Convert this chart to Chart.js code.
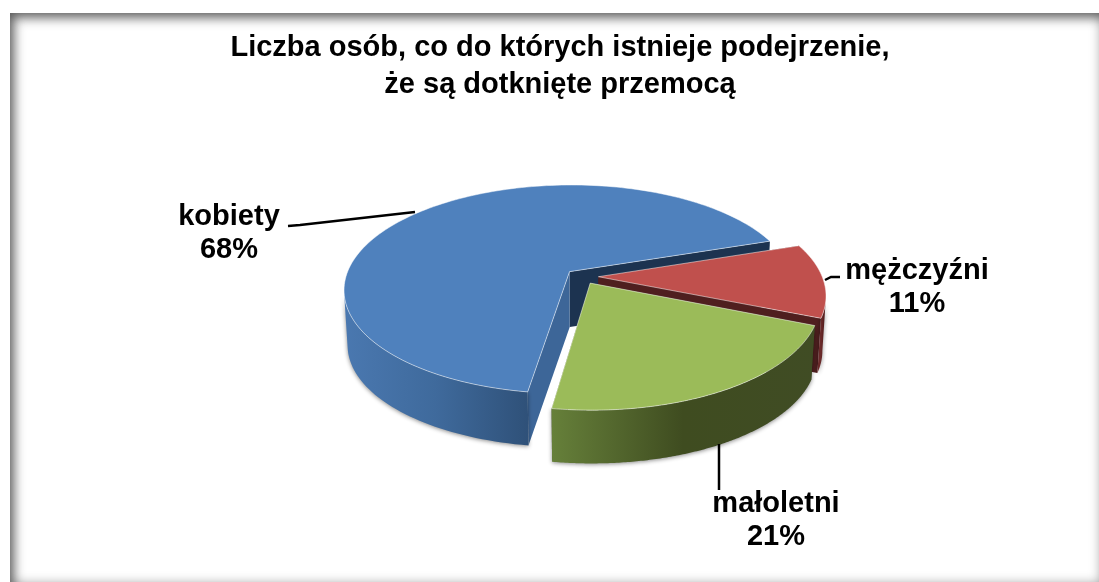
<!DOCTYPE html>
<html>
<head>
<meta charset="utf-8">
<script src="https://cdn.jsdelivr.net/npm/chart.js@4"></script>
<style>
  html, body { margin: 0; padding: 0; background: #fff; overflow: hidden; width: 1099px; height: 582px; }
  #frame { position: absolute; left: 10px; top: 13px; width: 1092px; height: 572px; background: #fff;
    box-shadow: inset 0 0 12px 1px rgba(0,0,0,.4), inset 7px 8px 12px -3px rgba(0,0,0,.45); }
  #wrap { position: absolute; left: 0; top: 0; width: 1120px; height: 582px; }
</style>
</head>
<body>
<div id="frame"></div>
<div id="wrap"><canvas id="pie"></canvas></div>
<script>
const titleLines = ["Liczba osób, co do których istnieje podejrzenie,", "że są dotknięte przemocą"];
const categories = ["kobiety", "mężczyźni", "małoletni"];
const shares = [67.5, 11.3, 21.2];
const topColors = ["#4f81bd", "#c0504d", "#9bbb59"];

// wall colours, one entry per slice
const startWallColors = ["#3d6698", "#4f1f1f", "#3f4c22"];
const endWallColors = ["#1c3350", "#4f1f1f", "#3f4c22"];
const outerWallStops = [
  ["#4a78b0", "#3f6a9c", "#2f5179"],
  ["#6a2a2a", "#5a2020", "#4f1f1f"],
  ["#66803a", "#3f4c20", "#404c24"]
];

// where the tilted pie ends up on screen
const pie3d = { cx: 582, cy: 294.5, rx: 227, ry: 106, tilt: -0.17, depth: 55, shrink: 0.985 };
const labelSpots = [
  { x: 229, y: 217, leader: [[288, 226], [300, 225], [415, 212]] },
  { x: 917, y: 271, leader: [[825, 280], [831, 277], [840, 277]] },
  { x: 776, y: 504, leader: [[719, 444], [719, 490]] }
];

function project(u, v, bottom) {
  const t = pie3d.tilt;
  const d = 1 + t * v;
  const X = u * Math.sqrt(1 - t * t) / d;
  const Y = (v + t) / d;
  const k = bottom ? pie3d.shrink : 1;
  return [pie3d.cx + X * pie3d.rx * k, pie3d.cy + Y * pie3d.ry * k + (bottom ? pie3d.depth : 0)];
}

function poly(ctx, pts) {
  ctx.beginPath();
  pts.forEach((p, i) => (i ? ctx.lineTo(p[0], p[1]) : ctx.moveTo(p[0], p[1])));
  ctx.closePath();
}

const tiltedPie = {
  id: "tiltedPie",
  // the arcs keep their angles from the doughnut controller, only the painting is replaced
  beforeDatasetsDraw(chart) {
    const ctx = chart.ctx;
    const arcs = chart.getDatasetMeta(0).data;
    ctx.save();
    arcs.forEach((arc, i) => {
      const R = arc.outerRadius;
      const mid = (arc.startAngle + arc.endAngle) / 2;
      const shift = arc.options.offset / 4 / R;
      const ox = Math.cos(mid) * shift, oy = Math.sin(mid) * shift;
      const at = (a, bottom) => project(ox + Math.cos(a), oy + Math.sin(a), bottom);
      const apexTop = project(ox, oy, false);
      const apexBot = project(ox, oy, true);
      const steps = 160;
      const angles = [];
      for (let s = 0; s <= steps; s++) angles.push(arc.startAngle + (arc.endAngle - arc.startAngle) * s / steps);

      // cut faces
      ctx.fillStyle = endWallColors[i];
      poly(ctx, [apexTop, at(arc.endAngle, false), at(arc.endAngle, true), apexBot]);
      ctx.fill();
      ctx.fillStyle = startWallColors[i];
      poly(ctx, [apexTop, at(arc.startAngle, false), at(arc.startAngle, true), apexBot]);
      ctx.fill();

      // outer wall, only the part that faces the viewer
      const front = angles.filter((a) => at(a + 0.001, false)[0] < at(a, false)[0]);
      if (front.length > 1) {
        const topEdge = front.map((a) => at(a, false));
        const botEdge = front.map((a) => at(a, true)).reverse();
        const x0 = topEdge[topEdge.length - 1][0], x1 = topEdge[0][0];
        const grad = ctx.createLinearGradient(x0, 0, x1, 0);
        grad.addColorStop(0, outerWallStops[i][0]);
        grad.addColorStop(0.5, outerWallStops[i][1]);
        grad.addColorStop(1, outerWallStops[i][2]);
        ctx.shadowColor = "rgba(0,0,0,.45)";
        ctx.shadowBlur = 4;
        ctx.shadowOffsetY = 1;
        ctx.fillStyle = grad;
        poly(ctx, topEdge.concat(botEdge));
        ctx.fill();
        ctx.shadowColor = "transparent";
      }

      // top face
      poly(ctx, [apexTop].concat(angles.map((a) => at(a, false))));
      ctx.fillStyle = arc.options.backgroundColor;
      ctx.fill();
      ctx.strokeStyle = "rgba(255,255,255,.5)";
      ctx.lineWidth = 1;
      ctx.stroke();
    });
    ctx.restore();
    return false;
  },
  afterDraw(chart) {
    const ctx = chart.ctx;
    ctx.save();
    ctx.strokeStyle = "#000";
    ctx.lineWidth = 2.5;
    labelSpots.forEach((spot) => {
      ctx.beginPath();
      spot.leader.forEach((p, i) => (i ? ctx.lineTo(p[0], p[1]) : ctx.moveTo(p[0], p[1])));
      ctx.stroke();
    });
    ctx.fillStyle = "#000";
    ctx.font = "bold 29px 'Liberation Sans', Arial, sans-serif";
    ctx.textAlign = "center";
    ctx.textBaseline = "middle";
    categories.forEach((name, i) => {
      ctx.fillText(name, labelSpots[i].x, labelSpots[i].y);
      ctx.fillText(Math.round(shares[i]) + "%", labelSpots[i].x, labelSpots[i].y + 33);
    });
    ctx.restore();
  }
};

new Chart(document.getElementById("pie"), {
  type: "pie",
  data: {
    labels: categories,
    datasets: [{
      data: shares,
      backgroundColor: topColors,
      borderWidth: 0,
      offset: 60
    }]
  },
  options: {
    responsive: true,
    maintainAspectRatio: false,
    animation: false,
    rotation: 188.5,
    events: [],
    plugins: {
      legend: { display: false },
      tooltip: { enabled: false },
      title: {
        display: true,
        text: titleLines,
        color: "#000",
        font: { family: "'Liberation Sans', Arial, sans-serif", size: 29, weight: "bold", lineHeight: 1.28 },
        padding: { top: 29, bottom: 10 }
      }
    }
  },
  plugins: [tiltedPie]
});
</script>
</body>
</html>
